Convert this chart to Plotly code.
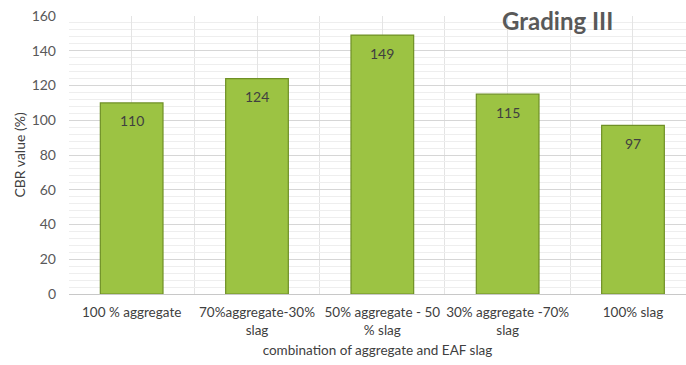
import plotly.graph_objects as go

categories = ["100 % aggregate", "70%aggregate-30%<br>slag", "50% aggregate - 50<br>% slag",
              "30% aggregate -70%<br>slag", "100% slag"]
cbr_values = [110, 124, 149, 115, 97]
y_ticks = [0, 20, 40, 60, 80, 100, 120, 140, 160]

x_pos = list(range(len(categories)))
font_family = "Lato, 'Open Sans', sans-serif"

fig = go.Figure()
fig.add_trace(go.Bar(
    x=x_pos, y=cbr_values, width=0.5,
    marker=dict(color="#9cc343", line=dict(color="#6f9026", width=1.2)),
    hoverinfo="skip",
))

for xp, v in zip(x_pos, cbr_values):
    fig.add_annotation(x=xp, y=v, text=str(v), showarrow=False, yshift=-18,
                       xanchor="center", yanchor="middle",
                       font=dict(family=font_family, size=14, color="#404040"))

fig.add_annotation(text="<b>Grading III</b>", xref="paper", yref="paper", x=0.791, y=0.985,
                   xanchor="center", yanchor="middle", showarrow=False,
                   font=dict(family=font_family, size=24, color="#595959"))

fig.update_layout(
    width=686, height=365, margin=dict(l=69, r=0, t=16, b=71),
    paper_bgcolor="white", plot_bgcolor="white", showlegend=False,
    font=dict(family=font_family, color="#595959", size=13),
    xaxis=dict(
        range=[-0.5, 4.423], tickvals=x_pos, ticktext=categories, ticks="",
        showgrid=True, gridcolor="#e4e4e4", gridwidth=1,
        minor=dict(tickvals=[-0.5, 0.5, 1.5, 2.5, 3.5], showgrid=True, gridcolor="#e4e4e4"),
        showline=True, linecolor="#c8c8c8", linewidth=1, zeroline=False,
        tickfont=dict(size=13.5, color="#404040"), ticklabelstandoff=6,
        title=dict(text="combination of aggregate and EAF slag", standoff=8,
                   font=dict(size=13.5, color="#404040")),
    ),
    yaxis=dict(
        range=[0, 160], tickvals=y_ticks, ticks="",
        showgrid=True, gridcolor="#d6d6d6", gridwidth=1,
        minor=dict(dtick=4, showgrid=True, gridcolor="#eeeeee"),
        zeroline=False, showline=False,
        tickfont=dict(size=14, color="#595959"), ticklabelstandoff=12,
        title=dict(text="CBR value (%)", standoff=2, font=dict(size=14, color="#404040")),
    ),
)

fig.write_html("out.html")
